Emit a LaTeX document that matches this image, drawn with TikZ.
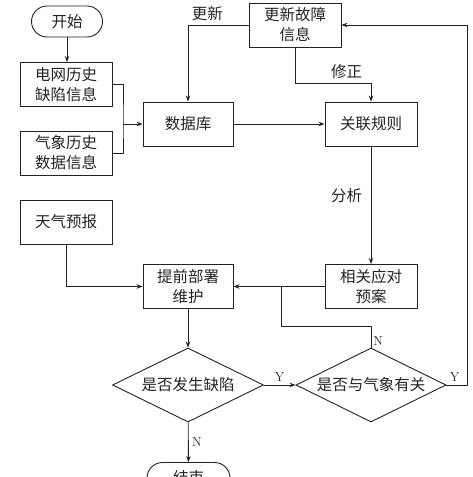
\documentclass[tikz,border=0pt]{standalone}
\usepackage{fontspec}
\newfontfamily\cjk{Noto Sans CJK SC}
\usetikzlibrary{shapes.geometric,arrows.meta}

\begin{document}
\begin{tikzpicture}[x=1pt,y=-1pt,line width=0.9pt,>={Stealth[length=6pt,width=4.5pt]},
  box/.style={draw,rectangle,minimum width=92pt,minimum height=44pt,inner sep=0pt,
    align=center,font=\cjk\fontsize{15.5}{20}\selectfont},
  term/.style={draw,rectangle,rounded corners=15.5pt,minimum width=71pt,minimum height=31pt,
    inner sep=0pt,font=\cjk\fontsize{15.5}{20}\selectfont},
  decision/.style={draw,diamond,aspect=2,minimum width=151pt,minimum height=74pt,inner sep=0pt,
    font=\cjk\fontsize{15.5}{20}\selectfont},
  note/.style={font=\cjk\fontsize{15.5}{20}\selectfont},
  lbl/.style={font=\fontsize{13}{15}\selectfont}]

  \definecolor{ink}{RGB}{35,35,35} % lines and text

  % Frame of the picture
  \useasboundingbox (0,0) rectangle (473,477);
  \clip (0,0) rectangle (473,477);

  \begin{scope}[color=ink]

  % Left column
  \node[term] (start) at (67,21.5) {开始};
  \node[box] (grid) at (66,84.5) {电网历史\\缺陷信息};
  \node[box] (meteo) at (66,153) {气象历史\\数据信息};
  \node[box] (weather) at (66,222) {天气预报};

  % Middle column
  \node[box,minimum width=90pt] (db) at (188,124) {数据库};
  \node[box,minimum width=90pt] (maint) at (188,286.5) {提前部署\\维护};
  \node[decision] (defect) at (188,385) {是否发生缺陷};
  \node[term,minimum width=83pt] (end) at (188.5,478) {结束};

  % Right column
  \node[box] (fault) at (295,25) {更新故障\\信息};
  \node[box] (rule) at (371,124) {关联规则};
  \node[box] (plan) at (371,286.5) {相关应对\\预案};
  \node[decision,minimum width=150pt] (relate) at (371,385) {是否与气象有关};

  % Bend points
  \coordinate (join) at (123,124);
  \coordinate (fix) at (371,83);
  \coordinate (merge) at (281,286.5);
  \coordinate (back) at (281,326);
  \coordinate (loop) at (467,25);

  % Inputs to the database
  \draw[->] (start.south) -- (start.south |- grid.north);
  \draw (grid.east) -| (join) |- (meteo.east);
  \draw[->] (join) -- (db.west);

  % Update and correction
  \draw[->] (fault.west) -| node[note,pos=0.34,above] {更新} (db.north);
  \draw[->] (fault.south) |- node[note,pos=0.84,above] {修正} (fix) -- (rule.north);
  \draw[->] (db) -- (rule);
  \draw[->] (rule) -- node[note,pos=0.42,left,xshift=-5pt] {分析} (plan);

  % Maintenance
  \draw[->] (weather.south) |- (maint.west);
  \draw[->] (plan.west) -- (maint.east);
  \draw (relate.north) node[lbl,above right,inner sep=2pt] {N} |- (back) -- (merge);

  % Decisions
  \draw[->] (maint) -- (defect);
  \draw[->] (defect) -- node[lbl,right] {N} (end);
  \draw[->] (defect) -- node[lbl,above] {Y} (relate);
  \draw[->] (relate.east) -| node[lbl,pos=0.2,above] {Y} (loop) -- (fault.east);

  \end{scope}

\end{tikzpicture}
\end{document}
